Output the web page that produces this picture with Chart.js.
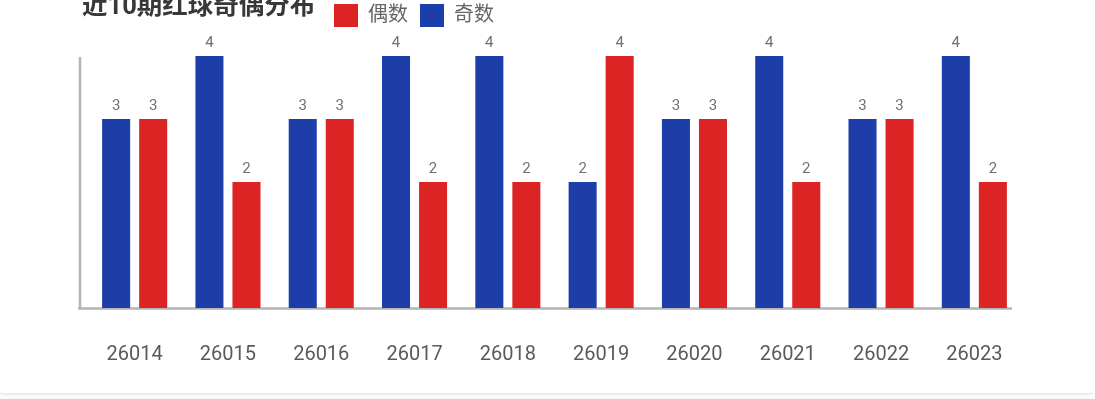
<!DOCTYPE html>
<html>
<head>
<meta charset="utf-8">
<script src="https://cdn.jsdelivr.net/npm/chart.js@4/dist/chart.umd.min.js"></script>
<style>
  html, body { margin: 0; padding: 0; background: #fafafa; }
  .card {
    position: relative;
    width: 1093px;
    height: 393px;
    background: #fff;
    border-bottom: 2px solid #ececec;
    border-radius: 0 0 4px 4px;
    overflow: hidden;
  }
  .title {
    position: absolute;
    left: 82px;
    top: -9px;
    font: bold 25.5px/28px Roboto, "Noto Sans CJK SC", sans-serif;
    color: #383838;
    white-space: nowrap;
  }
  #oddEvenChart { position: absolute; left: 0; top: 0; }
</style>
</head>
<body>
<div class="card">
  <canvas id="oddEvenChart" width="1095" height="425"></canvas>
  <div class="title">近10期红球奇偶分布</div>
</div>
<script>
const issues = ["26014", "26015", "26016", "26017", "26018", "26019", "26020", "26021", "26022", "26023"];
const oddCounts = [3, 4, 3, 4, 4, 2, 3, 4, 3, 4];
const evenCounts = [3, 2, 3, 2, 2, 4, 3, 2, 3, 2];

const blue = "#1d3ea9";
const red = "#dc2424";
const fontFamily = "Roboto, 'Noto Sans CJK SC', sans-serif";

// axis lines sit a bit left of the bar slots in the original
const axisLines = {
    id: "axisLines",
    beforeDatasetsDraw(chart) {
        const { ctx, chartArea: a } = chart;
        ctx.save();
        ctx.strokeStyle = "#b4b4b4";
        ctx.lineWidth = 2.5;
        ctx.beginPath();
        ctx.moveTo(a.left - 8, a.top + 1);
        ctx.lineTo(a.left - 8, a.bottom + 1);
        ctx.moveTo(a.left - 10, a.bottom + 0.5);
        ctx.lineTo(a.right - 9, a.bottom + 0.5);
        ctx.stroke();
        ctx.restore();
    }
};

// value on top of each bar
const valueLabels = {
    id: "valueLabels",
    afterDatasetsDraw(chart) {
        const { ctx } = chart;
        ctx.save();
        ctx.font = "15px " + fontFamily;
        ctx.fillStyle = "#707070";
        ctx.textAlign = "center";
        ctx.textBaseline = "bottom";
        chart.data.datasets.forEach((ds, i) => {
            chart.getDatasetMeta(i).data.forEach((bar, j) => {
                ctx.fillText(ds.data[j], bar.x, bar.y - 5);
            });
        });
        ctx.restore();
    }
};

// move the legend next to the title
const legendShift = {
    id: "legendShift",
    afterLayout(chart) {
        const lg = chart.legend;
        lg.left = 322;
        lg.right = chart.width;
        lg.top = -8;
        lg.bottom = lg.top + lg.height;
    }
};

new Chart(document.getElementById("oddEvenChart"), {
    type: "bar",
    data: {
        labels: issues,
        datasets: [
            { label: "奇数", data: oddCounts, backgroundColor: blue },
            { label: "偶数", data: evenCounts, backgroundColor: red }
        ]
    },
    options: {
        responsive: false,
        animation: false,
        categoryPercentage: 0.794,
        barPercentage: 0.757,
        layout: { padding: { left: 88, right: 74, top: 11, bottom: 23 } },
        plugins: {
            legend: {
                reverse: true,
                align: "start",
                labels: {
                    boxWidth: 24,
                    boxHeight: 23,
                    padding: 12,
                    color: "#666",
                    font: { size: 20, family: fontFamily }
                }
            },
            tooltip: { enabled: false }
        },
        scales: {
            x: {
                grid: { display: false, drawTicks: false },
                border: { display: false },
                ticks: {
                    padding: 35,
                    maxRotation: 0,
                    color: "#5a5a5a",
                    font: { size: 20, family: fontFamily }
                }
            },
            y: { display: false, min: 0, max: 4 }
        }
    },
    plugins: [axisLines, valueLabels, legendShift]
});
</script>
</body>
</html>
